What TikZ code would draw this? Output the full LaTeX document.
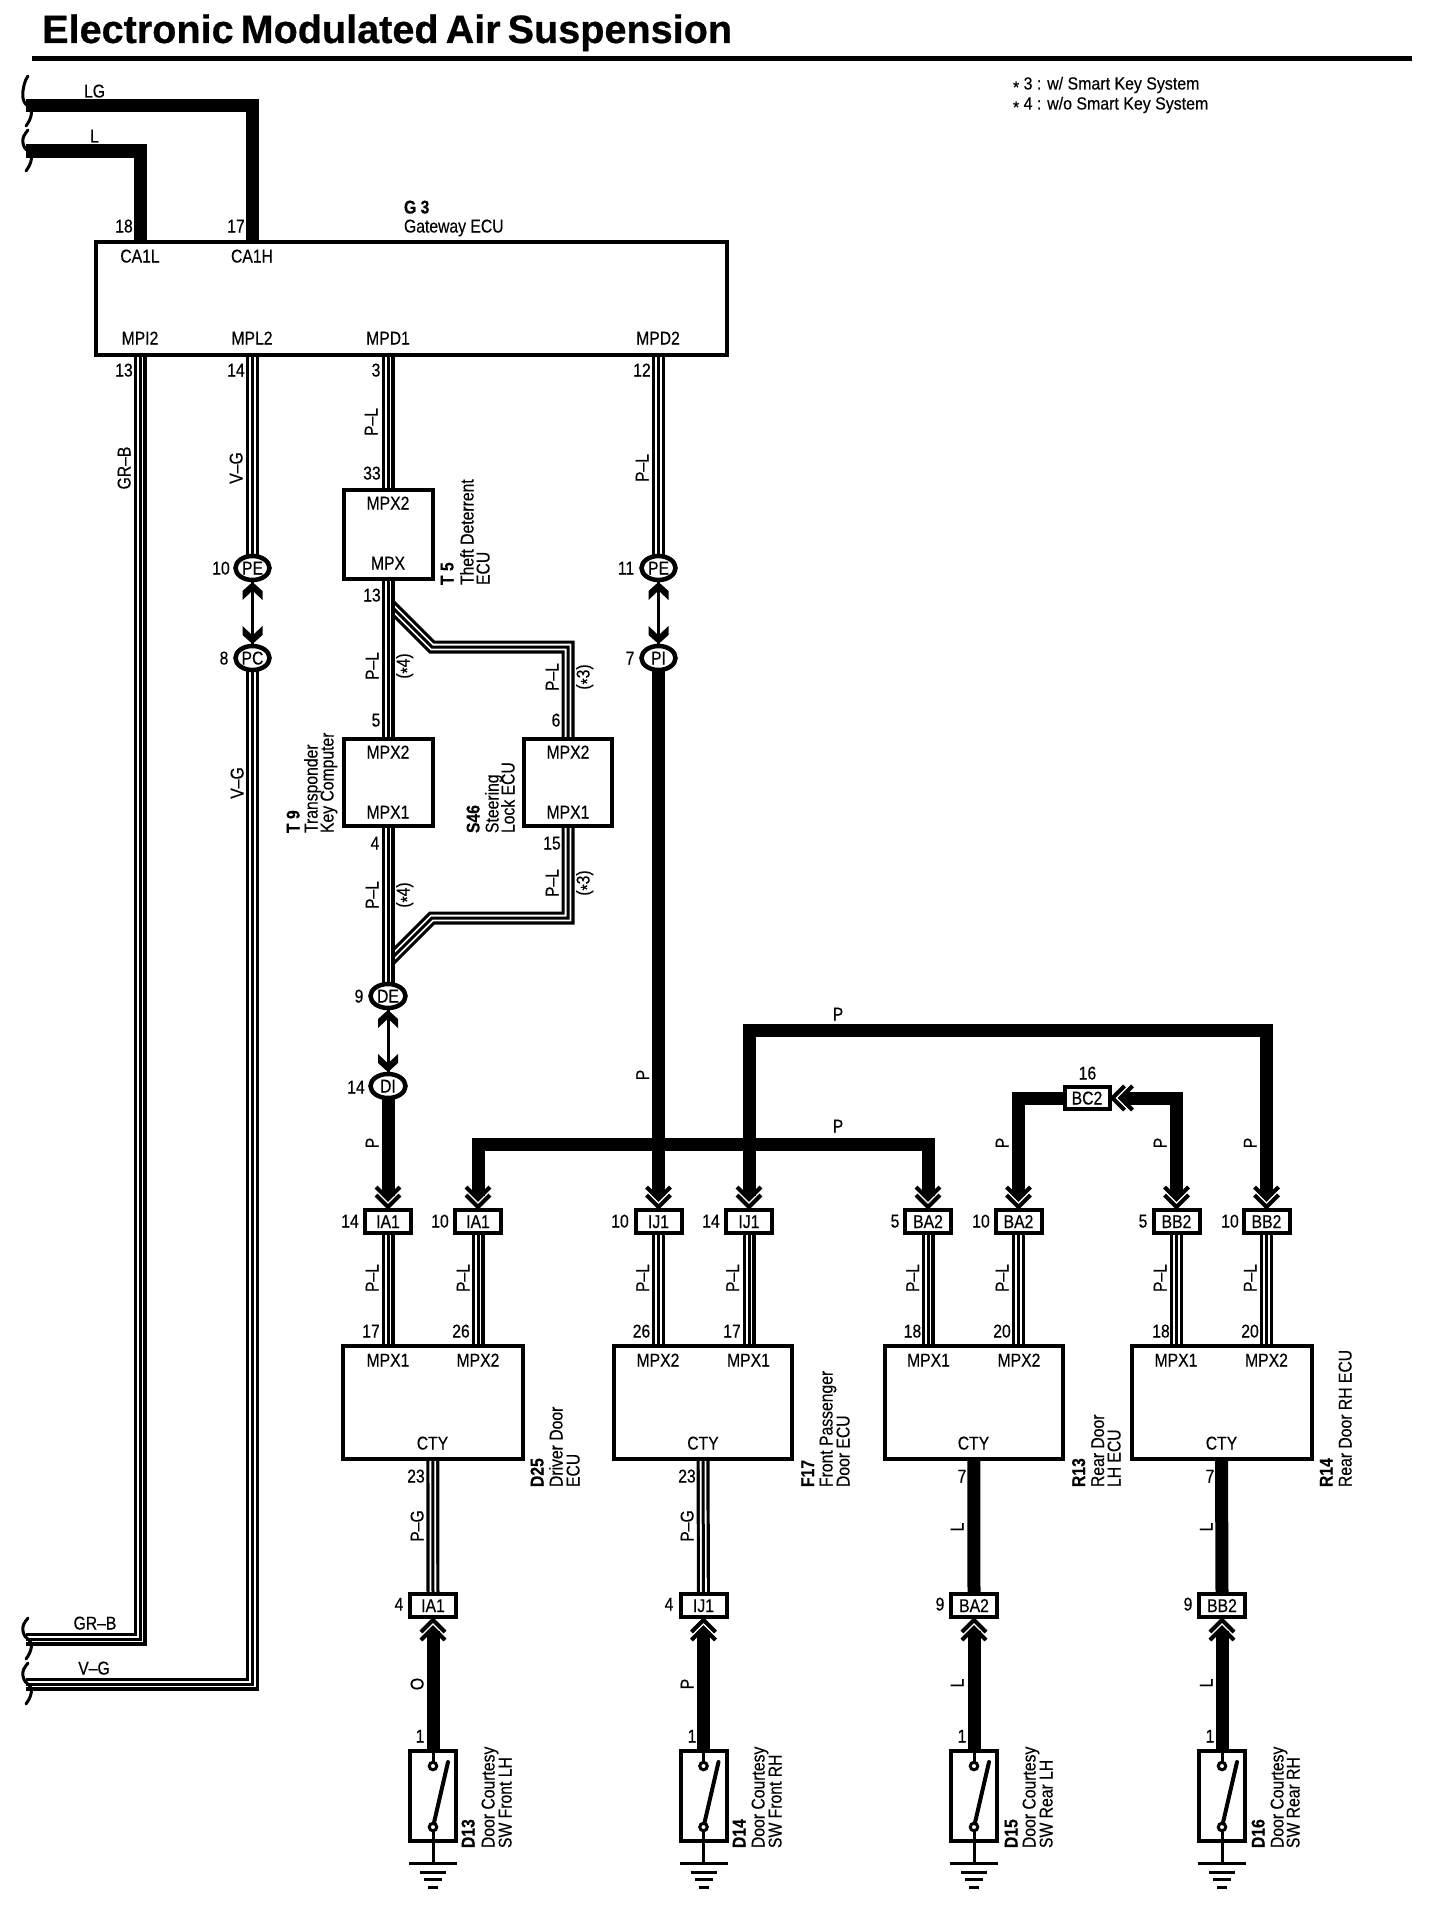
\documentclass[tikz,border=0pt]{standalone}
\usepackage{fontspec}
\setmainfont[FakeStretch=0.85,FakeBold=0.35]{Liberation Sans}
\newfontfamily\titlefont[FakeBold=0.6]{Liberation Sans}
\newfontfamily\notefont[FakeStretch=0.91,FakeBold=0.35]{Liberation Sans}
\usetikzlibrary{shapes.geometric,calc}
\pgfdeclarelayer{back}
\pgfsetlayers{back,main}
\newcommand{\st}{\raisebox{-0.22em}{*}}
\tikzset{
  lab/.style={inner sep=0pt,outer sep=0pt,text height=13pt,text depth=0pt,font=\fontsize{18.5}{20}\selectfont},
  rl/.style={lab,rotate=90},
  rid/.style={lab,rotate=90,anchor=west},
  bid/.style={rid,font=\fontsize{18.5}{20}\selectfont\bfseries},
  ecu/.style={draw=black,fill=white,line width=4pt,inner sep=0pt,outer sep=0pt},
  conn/.style={ecu,lab,draw=black,fill=white,line width=4pt,minimum width=46pt,minimum height=23pt},
  splice/.style={ellipse,ecu,lab,line width=4.5pt,minimum width=34pt,minimum height=24pt},
  thickw/.style={draw=black,line width=13pt},
  triple/.style={draw=black,line width=13pt,postaction={draw=white,line width=6.6pt},postaction={draw=black,line width=3pt}},
  contact/.style={circle,draw=black,fill=white,line width=3pt,minimum size=7.5pt,inner sep=0pt,outer sep=0pt},
  brk/.style={draw=black,line width=3pt,line cap=round},
}
% double chevron pointing along +y at the tip (#1 = anchor, #2 = rotation)
\newcommand{\chev}[2]{\begin{scope}[shift={(#1)},rotate=#2]
  \draw[line width=4pt] (-12,-15)--(0,-3)--(12,-15);
  \draw[line width=4pt] (-12,-23)--(0,-11)--(12,-23);
\end{scope}}
% solid notched head
\newcommand{\shead}[2]{\begin{scope}[shift={(#1)},rotate=#2]
  \fill (0,-2)--(-10,-11)--(-10,-20)--(-1.5,-12)--(1.5,-12)--(10,-20)--(10,-11)--cycle;
\end{scope}}
% cable break: #1 wire start, #2 upper length
\newcommand{\wbreak}[2]{\begin{scope}[shift={(#1)}]
  \draw[brk] (2,-#2) .. controls (-2,-#2+5) and (-4,-13) .. (-3,-8) .. controls (-2,-3) and (0,-1) .. (3,1) .. controls (7,4) and (6,12) .. (0,20);
\end{scope}}
% door switch unit: #1 name, #2 x
\newcommand{\swunit}[2]{
  \node[ecu,minimum width=46pt,minimum height=90pt] (#1) at (#2,1796) {};
  \node[contact] (#1a) at (#2,1766) {};
  \node[contact] (#1b) at (#2,1827) {};
  \coordinate (#1t) at (#2+15,1762);
  \coordinate (#1g) at (#2,1863);
  \draw[line width=3pt] (#1.north) -- (#1a.north);
  \draw[line width=3pt] (#1b.south) -- (#1g);
  \draw[line width=4pt,line cap=round] (#1b) -- (#1t);
  \draw[line width=3pt] ([xshift=-24pt]#1g) -- ([xshift=24pt]#1g);
  \draw[line width=3pt] ([xshift=-13pt,yshift=-9pt]#1g) -- ([xshift=13pt,yshift=-9pt]#1g);
  \draw[line width=3pt] ([xshift=-9pt,yshift=-16.5pt]#1g) -- ([xshift=9pt,yshift=-16.5pt]#1g);
  \draw[line width=3pt] ([xshift=-5pt,yshift=-24pt]#1g) -- ([xshift=5pt,yshift=-24pt]#1g);
}
\begin{document}
\begin{tikzpicture}[x=1pt,y=-1pt]
\useasboundingbox (0,0) rectangle (1440,1908);
% title
\node[inner sep=0pt,anchor=west,text height=28pt,text depth=0pt,font=\titlefont\fontsize{39.6}{40}\selectfont\bfseries] (title) at (42,29) {\spaceskip=7pt Electronic Modulated Air Suspension};
\coordinate (ruleL) at (32,58.5); \coordinate (ruleR) at (1412,58.5);
\draw[line width=5pt] (ruleL) -- (ruleR);
\node[lab,anchor=west,font=\notefont\fontsize{17.5}{19}\selectfont] (note1) at (1013,83) {\st\ 3 : w/ Smart Key System};
\node[lab,anchor=west,font=\notefont\fontsize{17.5}{19}\selectfont] (note2) at (1013,103) {\st\ 4 : w/o Smart Key System};

% boxes
\node[ecu,minimum width=631pt,minimum height=113pt] (g3) at (411.5,298.5) {};
\node[ecu,minimum width=89pt,minimum height=89pt] (t5) at (388,534.5) {};
\node[ecu,minimum width=89pt,minimum height=87pt] (t9) at (388,782.5) {};
\node[ecu,minimum width=88pt,minimum height=87pt] (s46) at (568,782.5) {};
\node[ecu,minimum width=179.5pt,minimum height=113pt] (drv) at (432.75,1402.5) {};
\node[ecu,minimum width=178pt,minimum height=113pt] (fp) at (703,1402.5) {};
\node[ecu,minimum width=178.5pt,minimum height=113pt] (rl) at (973.75,1402.5) {};
\node[ecu,minimum width=180pt,minimum height=113pt] (rr) at (1221.5,1402.5) {};

% splices
\node[splice] (pea) at (252.5,568) {PE};
\node[splice] (pc) at (252.5,658) {PC};
\node[splice] (peb) at (658.5,568) {PE};
\node[splice] (pi) at (658.5,658) {PI};
\node[splice,minimum width=35pt] (de) at (388,996) {DE};
\node[splice,minimum width=35pt] (di) at (388,1086) {DI};

% connectors
\node[conn] (iaa) at (388,1221.5) {IA1};
\node[conn] (iab) at (478,1221.5) {IA1};
\node[conn] (ija) at (658.5,1221.5) {IJ1};
\node[conn] (ijb) at (749,1221.5) {IJ1};
\node[conn] (baa) at (928,1221.5) {BA2};
\node[conn] (bab) at (1018.5,1221.5) {BA2};
\node[conn] (bba) at (1176.5,1221.5) {BB2};
\node[conn] (bbb) at (1266.5,1221.5) {BB2};
\node[conn,minimum width=45pt,minimum height=22pt] (bc) at (1087,1098) {BC2};
\node[conn] (lia) at (433,1605.5) {IA1};
\node[conn] (lij) at (703.5,1605.5) {IJ1};
\node[conn] (lba) at (974,1605.5) {BA2};
\node[conn] (lbb) at (1222,1605.5) {BB2};

% switches
\swunit{swa}{433}
\swunit{swb}{703.5}
\swunit{swc}{974}
\swunit{swd}{1222}

% wire ends
\coordinate (brLG) at (26,106);
\coordinate (brL) at (26,151);
\coordinate (brGR) at (26,1639);
\coordinate (brVG) at (26,1684);
\coordinate (pinH) at (252,242);
\coordinate (pinL) at (140,242);
\coordinate (pinI2) at (140,355);
\coordinate (pinL2) at (252.5,355);
\coordinate (pinD1) at (388,355);
\coordinate (pinD2) at (658.5,355);
\coordinate (brA) at (388,603);
\coordinate (kneeA) at (432,647);
\coordinate (brB) at (388,962);
\coordinate (kneeB) at (432,918);
\coordinate (midA) at (700,1144);
\coordinate (midB) at (1000,1030.5);

\begin{pgfonlayer}{back}
\fill[white] (0,0) rectangle (1440,1908);
\draw[thickw] (brLG) -| (pinH);
\draw[thickw] (brL) -| (pinL);
\draw[triple] (pinI2) |- (brGR);
\draw[triple] (pc.south) |- (brVG);
\draw[triple] (pinL2) -- (pea.north);
\draw[triple] (pinD1) -- (t5.north);
\draw[triple] (pinD2) -- (peb.north);
\draw[triple] (brA) -- (kneeA) -| (s46.north);
\draw[triple] (s46.south) |- (kneeB) -- (brB);
\draw[triple] (t5.south) -- (t9.north);
\draw[triple] (t9.south) -- (de.north);
\draw[line width=3pt] (pea.south) -- (pc.north);
\draw[line width=3pt] (peb.south) -- (pi.north);
\draw[line width=3pt] (de.south) -- (di.north);
\draw[thickw] (pi.south) -- ([yshift=14pt]ija.north);
\draw[thickw] (di.south) -- ([yshift=14pt]iaa.north);
\draw[thickw] ([yshift=14pt]iab.north) |- (midA) -| ([yshift=14pt]baa.north);
\draw[thickw] ([yshift=14pt]ijb.north) |- (midB) -| ([yshift=14pt]bbb.north);
\draw[thickw] (bc.west) -| ([yshift=14pt]bab.north);
\draw[thickw] ([xshift=14pt]bc.east) -| ([yshift=14pt]bba.north);
\foreach \cn in {iaa,iab,ija,ijb,baa,bab,bba,bbb}{
  \draw[triple] (\cn.south) -- (\cn.south |- drv.north);
}
\draw[triple] (drv.south) -- (lia.north);
\draw[triple] (fp.south) -- (lij.north);
\draw[thickw] (rl.south) -- (lba.north);
\draw[thickw] (rr.south) -- (lbb.north);
\draw[thickw] ([yshift=-14pt]lia.south) -- (swa.north);
\draw[thickw] ([yshift=-14pt]lij.south) -- (swb.north);
\draw[thickw] ([yshift=-14pt]lba.south) -- (swc.north);
\draw[thickw] ([yshift=-14pt]lbb.south) -- (swd.north);
\end{pgfonlayer}

% breaks
\wbreak{brLG}{30}
\wbreak{brL}{21}
\wbreak{brGR}{21}
\wbreak{brVG}{21}

% heads
\shead{pea.south}{180}\shead{pc.north}{0}
\shead{peb.south}{180}\shead{pi.north}{0}
\shead{de.south}{180}\shead{di.north}{0}
\chev{iaa.north}{0}\chev{iab.north}{0}\chev{ija.north}{0}\chev{ijb.north}{0}
\chev{baa.north}{0}\chev{bab.north}{0}\chev{bba.north}{0}\chev{bbb.north}{0}
\chev{bc.east}{-90}
\chev{lia.south}{180}\chev{lij.south}{180}\chev{lba.south}{180}\chev{lbb.south}{180}

% wire colour labels, horizontal
\node[lab] (tLG) at (94.5,91) {LG};
\node[lab] (tL) at (94.5,136) {L};
\node[lab] (tGRB) at (95,1623) {GR--B};
\node[lab] (tVG) at (94,1668) {V--G};
\node[lab] (tPa) at (838,1014) {P};
\node[lab] (tPb) at (838,1126) {P};

% wire colour labels, rotated
\node[rl] (rGRB) at (124,468) {GR--B};
\node[rl] (rVGa) at (236,468) {V--G};
\node[rl] (rVGb) at (237,783) {V--G};
\node[rl] (rPLa) at (371,422) {P--L};
\node[rl] (rPLb) at (642,468) {P--L};
\node[rl] (rPLc) at (372,666) {P--L};
\node[rl] (rPLd) at (552,677) {P--L};
\node[rl] (rPLe) at (372,895) {P--L};
\node[rl] (rPLf) at (552,883) {P--L};
\node[rl] (rSa) at (403,666) {(\st4)};
\node[rl] (rSb) at (583,677) {(\st3)};
\node[rl] (rSc) at (403,895) {(\st4)};
\node[rl] (rSd) at (583,883) {(\st3)};
\node[rl] (rPa) at (642.5,1075) {P};
\node[rl] (rPb) at (372,1143) {P};
\node[rl] (rPc) at (1002,1143) {P};
\node[rl] (rPd) at (1160,1143) {P};
\node[rl] (rPe) at (1250,1143) {P};
\node[rl] (rDa) at (372,1278) {P--L};
\node[rl] (rDb) at (463,1278) {P--L};
\node[rl] (rDc) at (642.5,1278) {P--L};
\node[rl] (rDd) at (732.5,1278) {P--L};
\node[rl] (rDe) at (912.5,1278) {P--L};
\node[rl] (rDf) at (1002,1278) {P--L};
\node[rl] (rDg) at (1160,1278) {P--L};
\node[rl] (rDh) at (1250,1278) {P--L};
\node[rl] (rGa) at (417,1526) {P--G};
\node[rl] (rGb) at (687,1526) {P--G};
\node[rl] (rLa) at (957,1527) {L};
\node[rl] (rLb) at (1206,1527) {L};
\node[rl] (rOa) at (417,1684) {O};
\node[rl] (rOb) at (687,1684) {P};
\node[rl] (rLc) at (957,1683) {L};
\node[rl] (rLd) at (1206,1683) {L};

% pin labels inside boxes
\node[lab] (iCAL) at (140,256) {CA1L};
\node[lab] (iCAH) at (252,256) {CA1H};
\node[lab] (iMPI) at (140,338) {MPI2};
\node[lab] (iMPL) at (252,338) {MPL2};
\node[lab] (iMD1) at (388,338) {MPD1};
\node[lab] (iMD2) at (658,338) {MPD2};
\node[lab] (iTa) at (388,503) {MPX2};
\node[lab] (iTb) at (388,563) {MPX};
\node[lab] (iKa) at (388,752) {MPX2};
\node[lab] (iKb) at (388,812) {MPX1};
\node[lab] (iSa) at (568,752) {MPX2};
\node[lab] (iSb) at (568,812) {MPX1};
\node[lab] (iDa) at (388,1360) {MPX1};
\node[lab] (iDb) at (478,1360) {MPX2};
\node[lab] (iDc) at (432.5,1443) {CTY};
\node[lab] (iFa) at (658,1360) {MPX2};
\node[lab] (iFb) at (748.5,1360) {MPX1};
\node[lab] (iFc) at (703,1443) {CTY};
\node[lab] (iRa) at (928.5,1360) {MPX1};
\node[lab] (iRb) at (1019,1360) {MPX2};
\node[lab] (iRc) at (973.5,1443) {CTY};
\node[lab] (iQa) at (1176,1360) {MPX1};
\node[lab] (iQb) at (1266.5,1360) {MPX2};
\node[lab] (iQc) at (1221.5,1443) {CTY};

% pin numbers
\node[lab] (n18) at (124,226) {18};
\node[lab] (n17) at (236,226) {17};
\node[lab] (n13) at (124,370) {13};
\node[lab] (n14) at (236,370) {14};
\node[lab] (n3) at (376,370) {3};
\node[lab] (n12) at (642,370) {12};
\node[lab] (n33) at (372,473) {33};
\node[lab] (n13b) at (372,595) {13};
\node[lab] (n10) at (221,568) {10};
\node[lab] (n8) at (224,658) {8};
\node[lab] (n11) at (626,568) {11};
\node[lab] (n7) at (630,658) {7};
\node[lab] (n5) at (376,720) {5};
\node[lab] (n6) at (556,720) {6};
\node[lab] (n4) at (375,843) {4};
\node[lab] (n15) at (552,843) {15};
\node[lab] (n9) at (359,996) {9};
\node[lab] (n14b) at (356,1087) {14};
\node[lab] (n16) at (1087.5,1073) {16};
\node[lab] (c1) at (350,1221) {14};
\node[lab] (c2) at (440,1221) {10};
\node[lab] (c3) at (620,1221) {10};
\node[lab] (c4) at (711,1221) {14};
\node[lab] (c5) at (895,1221) {5};
\node[lab] (c6) at (981,1221) {10};
\node[lab] (c7) at (1143,1221) {5};
\node[lab] (c8) at (1230,1221) {10};
\node[lab] (d1) at (371,1331) {17};
\node[lab] (d2) at (461,1331) {26};
\node[lab] (d3) at (641.5,1331) {26};
\node[lab] (d4) at (732,1331) {17};
\node[lab] (d5) at (912.5,1331) {18};
\node[lab] (d6) at (1002,1331) {20};
\node[lab] (d7) at (1161,1331) {18};
\node[lab] (d8) at (1250,1331) {20};
\node[lab] (e1) at (416,1476) {23};
\node[lab] (e2) at (687,1476) {23};
\node[lab] (e3) at (962,1476) {7};
\node[lab] (e4) at (1210,1476) {7};
\node[lab] (f1) at (399,1604) {4};
\node[lab] (f2) at (669,1604) {4};
\node[lab] (f3) at (940,1604) {9};
\node[lab] (f4) at (1188,1604) {9};
\node[lab] (g1) at (420,1736) {1};
\node[lab] (g2) at (692,1736) {1};
\node[lab] (g4) at (962,1736) {1};
\node[lab] (g5) at (1210,1736) {1};

% component names
\node[lab,anchor=west,font=\fontsize{18.5}{20}\selectfont\bfseries] (idG) at (404,207) {G 3};
\node[lab,anchor=west] (nmG) at (404,226) {Gateway ECU};
\node[bid] (idT5) at (447,585) {T 5};
\node[rid] (nmT5a) at (467,585) {Theft Deterrent};
\node[rid] (nmT5b) at (483,585) {ECU};
\node[bid] (idT9) at (293,833) {T 9};
\node[rid] (nmT9a) at (311,833) {Transponder};
\node[rid] (nmT9b) at (327,833) {Key Computer};
\node[bid] (idS) at (473,833) {S46};
\node[rid] (nmSa) at (492,833) {Steering};
\node[rid] (nmSb) at (508,833) {Lock ECU};
\node[bid] (idD25) at (537,1487) {D25};
\node[rid] (nmDa) at (556,1487) {Driver Door};
\node[rid] (nmDb) at (573,1487) {ECU};
\node[bid] (idF) at (807.5,1487) {F17};
\node[rid] (nmFa) at (826,1487) {Front Passenger};
\node[rid] (nmFb) at (843,1487) {Door ECU};
\node[bid] (idR13) at (1078.5,1487) {R13};
\node[rid] (nmRa) at (1097.5,1487) {Rear Door};
\node[rid] (nmRb) at (1114,1487) {LH ECU};
\node[bid] (idR14) at (1326,1487) {R14};
\node[rid] (nmQ) at (1345,1487) {Rear Door RH ECU};
\node[bid] (idD13) at (468,1848) {D13};
\node[rid] (sAa) at (488,1848) {Door Courtesy};
\node[rid] (sAb) at (505,1848) {SW Front LH};
\node[bid] (idD14) at (739,1848) {D14};
\node[rid] (sBa) at (758,1848) {Door Courtesy};
\node[rid] (sBb) at (775,1848) {SW Front RH};
\node[bid] (idD15) at (1011,1848) {D15};
\node[rid] (sCa) at (1029,1848) {Door Courtesy};
\node[rid] (sCb) at (1046,1848) {SW Rear LH};
\node[bid] (idD16) at (1258,1848) {D16};
\node[rid] (sDa) at (1277,1848) {Door Courtesy};
\node[rid] (sDb) at (1293,1848) {SW Rear RH};
\end{tikzpicture}
\end{document}
